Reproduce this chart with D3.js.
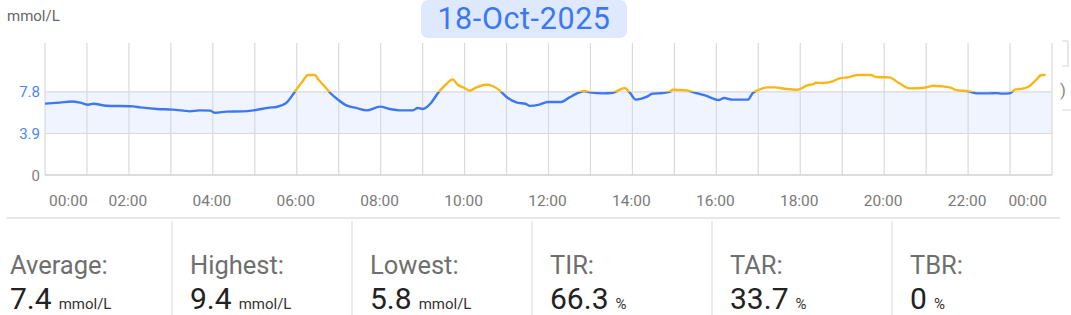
<!DOCTYPE html>
<html><head><meta charset="utf-8">
<script src="https://cdn.jsdelivr.net/npm/d3@7"></script>
<style>
html,body{margin:0;padding:0;background:#fff;}
svg{display:block;font-family:Roboto,"Noto Sans",sans-serif;}
</style></head>
<body><svg id="c" width="1071" height="315"></svg>
<script>
const dateLabel = "18-Oct-2025";
const unitLabel = "mmol/L";
const times = ["00:00","00:21","00:38","00:50","01:02","01:09","01:28","02:06","02:16","02:40","03:03","03:18","03:27","03:41","03:56","04:03","04:20","04:43","04:58","05:21","05:31","05:45","05:55","05:57","06:09","06:16","06:26","06:30","06:40","06:48","06:59","07:11","07:25","07:40","07:59","08:13","08:27","08:46","08:53","09:00","09:12","09:22","09:34","09:43","09:50","10:00","10:07","10:17","10:31","10:40","10:50","11:00","11:14","11:28","11:33","11:47","11:59","12:18","12:30","12:40","12:51","12:59","13:18","13:32","13:49","13:56","14:05","14:20","14:29","14:43","14:53","14:58","15:17","15:31","15:45","16:04","16:11","16:23","16:45","16:52","17:01","17:13","17:23","17:40","17:56","18:10","18:20","18:22","18:32","18:46","18:56","19:10","19:22","19:41","19:48","20:07","20:21","20:36","20:55","21:11","21:23","21:37","21:42","22:01","22:13","22:30","22:40","22:49","22:59","23:08","23:18","23:27","23:37","23:45","23:51"];
const glucose = [6.7,6.8,6.9,6.8,6.6,6.7,6.5,6.45,6.35,6.2,6.14,6.05,5.98,6.07,6.05,5.85,5.95,5.98,6.07,6.33,6.39,6.77,7.6,7.8,8.86,9.4,9.4,9.04,8.32,7.7,7.08,6.54,6.3,6.07,6.42,6.2,6.07,6.07,6.3,6.2,6.77,7.7,8.55,8.98,8.48,8.17,7.92,8.23,8.48,8.36,7.95,7.33,6.82,6.67,6.49,6.61,6.86,6.86,7.29,7.64,7.89,7.76,7.67,7.73,8.17,7.76,7.08,7.33,7.64,7.7,7.8,8.01,7.95,7.7,7.45,7.05,7.23,7.08,7.08,7.7,8.01,8.23,8.23,8.08,8.01,8.42,8.55,8.67,8.64,8.79,9.07,9.2,9.39,9.39,9.2,9.17,8.64,8.14,8.17,8.39,8.32,8.17,7.99,7.86,7.67,7.67,7.7,7.64,7.67,8.04,8.11,8.32,8.92,9.4,9.4];
const xTickHours = [0,2,4,6,8,10,12,14,16,18,20,22,24];
const xTickLabels = ["00:00","02:00","04:00","06:00","08:00","10:00","12:00","14:00","16:00","18:00","20:00","22:00","00:00"];
const yTicks = [0,3.9,7.8];
const rangeLow = 3.9, rangeHigh = 7.8;
const statLabels = ["Average:","Highest:","Lowest:","TIR:","TAR:","TBR:"];
const statValues = ["7.4","9.4","5.8","66.3","33.7","0"];
const statUnits = ["mmol/L","mmol/L","mmol/L","%","%","%"];

const svg = d3.select("#c");
const L = 45, R = 1052, T = 43, B = 175;
const toH = t => { const [h,m] = t.split(":").map(Number); return h + m/60; };
const x = d3.scaleLinear().domain([0,24]).range([L,R]);
const y = d3.scaleLinear().domain([0,12.4]).range([B,T]);
const data = times.map((t,i)=>({h:toH(t), v:glucose[i]}));

// title pill
svg.append("rect").attr("x",421).attr("y",0).attr("width",206).attr("height",38).attr("rx",7).attr("fill","#dfe9fd");
svg.append("text").attr("x",524).attr("y",29).attr("text-anchor","middle").attr("font-size",30.5).attr("letter-spacing",0.6).attr("fill","#3b78f2").text(dateLabel);
svg.append("text").attr("x",7).attr("y",21).attr("font-size",15).attr("fill","#666").text(unitLabel);

// band
svg.append("rect").attr("x",L).attr("y",y(rangeHigh)).attr("width",R-L).attr("height",y(rangeLow)-y(rangeHigh)).attr("fill","#f0f4fe");

// vertical hourly grid
svg.append("g").selectAll("line").data(d3.range(0,25)).join("line")
  .attr("x1",d=>x(d)).attr("x2",d=>x(d)).attr("y1",T).attr("y2",B)
  .attr("stroke","#d9d9de").attr("stroke-width",1.2);
// horizontal grid
svg.append("g").selectAll("line").data(yTicks.filter(d=>d>0)).join("line")
  .attr("x1",L).attr("x2",R).attr("y1",d=>y(d)).attr("y2",d=>y(d))
  .attr("stroke","#d9d9de").attr("stroke-width",1.2);
svg.append("line").attr("x1",L).attr("x2",R).attr("y1",B).attr("y2",B).attr("stroke","#d2d2d6").attr("stroke-width",1.6);

// y labels
svg.append("g").selectAll("text").data(yTicks).join("text")
  .attr("x",40).attr("y",d=>y(d)+5.5).attr("text-anchor","end").attr("font-size",15)
  .attr("fill",d=>d===0?"#808080":"#4a86f7").text(d=>d===0?"0":d.toFixed(1));

// x labels
svg.append("g").selectAll("text").data(xTickHours).join("text")
  .attr("x",(d,i)=> i===0 ? L+4 : (i===xTickHours.length-1 ? R-5 : x(d)-1))
  .attr("y",206).attr("font-size",15.5).attr("fill","#7a7a7a")
  .attr("text-anchor",(d,i)=> i===0 ? "start" : (i===xTickHours.length-1 ? "end" : "middle"))
  .text((d,i)=>xTickLabels[i]);

// line split at threshold
const defs = svg.append("defs");
defs.append("clipPath").attr("id","above").append("rect").attr("x",0).attr("y",0).attr("width",1071).attr("height",y(rangeHigh));
defs.append("clipPath").attr("id","below").append("rect").attr("x",0).attr("y",y(rangeHigh)).attr("width",1071).attr("height",315);
const line = d3.line().x(d=>x(d.h)).y(d=>y(d.v)).curve(d3.curveMonotoneX);
svg.append("path").datum(data).attr("d",line).attr("fill","none").attr("stroke","#3b78f2").attr("stroke-width",2.4).attr("stroke-linejoin","round").attr("clip-path","url(#below)");
svg.append("path").datum(data).attr("d",line).attr("fill","none").attr("stroke","#f8b619").attr("stroke-width",2.4).attr("stroke-linejoin","round").attr("clip-path","url(#above)");

// cut-off neighbouring panel at right
svg.append("path").attr("d","M1062,41 L1068,41 L1068,66 L1062,66").attr("fill","none").attr("stroke","#d8d8d8").attr("stroke-width",1.2);
svg.append("text").attr("x",1060).attr("y",96).attr("font-size",17).attr("fill","#888").text(")");
svg.append("line").attr("x1",1062).attr("x2",1071).attr("y1",110).attr("y2",110).attr("stroke","#e2e2e2").attr("stroke-width",1.5);

// stats
svg.append("line").attr("x1",7).attr("x2",1060).attr("y1",218).attr("y2",218).attr("stroke","#e8e8e8").attr("stroke-width",2);
const colX = d3.range(6).map(i=>10+180*i);
svg.append("g").selectAll("line").data(colX.slice(1)).join("line")
  .attr("x1",d=>d-18).attr("x2",d=>d-18).attr("y1",221).attr("y2",315).attr("stroke","#e6e6e6").attr("stroke-width",1.5);
const sg = svg.append("g").selectAll("g").data(statLabels).join("g");
sg.append("text").attr("x",(d,i)=>colX[i]).attr("y",274).attr("font-size",25.5).attr("fill","#6f6f6f").text(d=>d);
const vt = sg.append("text").attr("x",(d,i)=>colX[i]).attr("y",309);
vt.append("tspan").attr("font-size",30).attr("fill","#222").text((d,i)=>statValues[i]);
vt.append("tspan").attr("dx",7).attr("font-size",15).attr("fill","#333").text((d,i)=>statUnits[i]);
</script></body></html>
